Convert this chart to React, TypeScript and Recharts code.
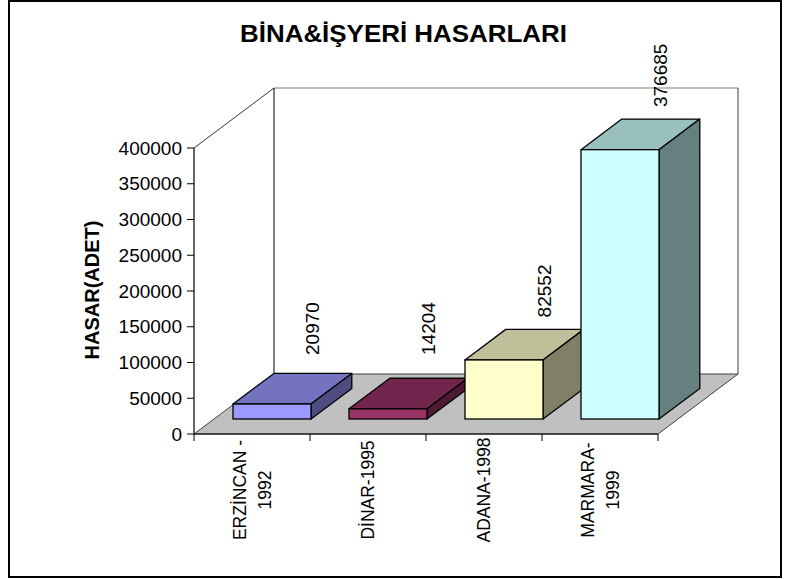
import React from 'react';
import { BarChart, Bar, XAxis, YAxis, ReferenceArea, LabelList } from 'recharts';

const categories = ['ERZİNCAN -\n1992', 'DİNAR-1995', 'ADANA-1998', 'MARMARA-\n1999'];
const damages = [20970, 14204, 82552, 376685];
const yTicks = [0, 50000, 100000, 150000, 200000, 250000, 300000, 350000, 400000];
const frontColors = ['#9999FF', '#993366', '#FFFFCC', '#CCFFFF'];
const topColors = ['#7373BF', '#73264D', '#BFBF99', '#99BFBF'];
const sideColors = ['#4D4D80', '#4D1A33', '#808066', '#668080'];
const chartTitle = 'BİNA&İŞYERİ HASARLARI';
const yTitle = 'HASAR(ADET)';

const data = categories.map((name, i) => ({ name, value: damages[i] }));

const FONT = '"Liberation Sans", Arial, Helvetica, sans-serif';
const DX = 80;
const DY = 60;
const FRONT = 0.25;
const THICK = 0.51;

const Bar3D = (props: any) => {
  const { x, y, width, height, index } = props;
  if (width == null || height == null) return null;
  const ox = x + DX * FRONT;
  const oy = y - DY * FRONT;
  const tx = DX * THICK;
  const ty = DY * THICK;
  const sw = 1.3;
  return (
    <g>
      <polygon
        points={`${ox},${oy} ${ox + tx},${oy - ty} ${ox + width + tx},${oy - ty} ${ox + width},${oy}`}
        fill={topColors[index]}
        stroke="#000"
        strokeWidth={sw}
        strokeLinejoin="round"
      />
      <polygon
        points={`${ox + width},${oy} ${ox + width + tx},${oy - ty} ${ox + width + tx},${oy + height - ty} ${ox + width},${oy + height}`}
        fill={sideColors[index]}
        stroke="#000"
        strokeWidth={sw}
        strokeLinejoin="round"
      />
      <rect x={ox} y={oy} width={width} height={height} fill={frontColors[index]} stroke="#000" strokeWidth={sw} />
    </g>
  );
};

const Room = (props: any) => {
  const { x, y, width, height } = props;
  if (x == null) return null;
  const L = x;
  const R = x + width;
  const T = y;
  const B = y + height;
  const n = categories.length;
  const ticks = [];
  for (let i = 0; i <= n; i++) {
    const tx = L + (i * width) / n;
    ticks.push(<line key={i} x1={tx} y1={B} x2={tx} y2={B + 7} stroke="#000" strokeWidth={1} />);
  }
  return (
    <g>
      <polygon
        points={`${L},${B} ${L + DX},${B - DY} ${R + DX},${B - DY} ${R},${B}`}
        fill="#C0C0C0"
        stroke="#404040"
        strokeWidth={1}
      />
      <line x1={L + DX} y1={T - DY} x2={R + DX} y2={T - DY} stroke="#808080" strokeWidth={1.2} />
      <line x1={L} y1={T} x2={L + DX} y2={T - DY} stroke="#000" strokeWidth={0.8} />
      <line x1={L + DX} y1={T - DY} x2={L + DX} y2={B - DY} stroke="#000" strokeWidth={1} />
      <line x1={R + DX} y1={T - DY} x2={R + DX} y2={B - DY} stroke="#404040" strokeWidth={1} />
      {ticks}
    </g>
  );
};

const CatTick = (props: any) => {
  const { x, y, payload } = props;
  const lines = String(payload.value).split('\n');
  const lh = 24.5;
  const cy = y + 56;
  return (
    <g>
      {lines.map((ln, i) => {
        const cx = x + (i - (lines.length - 1) / 2) * lh;
        const bx = cx + 6.3;
        return (
          <text
            key={i}
            x={bx}
            y={cy}
            transform={`rotate(-90 ${bx} ${cy})`}
            textAnchor="middle"
            fontSize={17.5}
            fontFamily={FONT}
            fill="#000"
          >
            {ln}
          </text>
        );
      })}
    </g>
  );
};

const ValueLabel = (props: any) => {
  const vb = props.viewBox || props;
  const x = vb.x ?? props.x;
  const y = vb.y ?? props.y;
  const width = vb.width ?? props.width;
  const height = vb.height ?? props.height;
  if (x == null || y == null) return null;
  const cx = x + width / 2 + DX * 0.75;
  const backTop = y - DY * (FRONT + THICK);
  const floorBack = y + height - DY;
  const by = Math.min(backTop - 12, floorBack - 19);
  const bx = cx + 7;
  return (
    <text
      x={bx}
      y={by}
      transform={`rotate(-90 ${bx} ${by})`}
      textAnchor="start"
      fontSize={19}
      fontFamily={FONT}
      fill="#000"
    >
      {props.value}
    </text>
  );
};

export default function App() {
  return (
    <div style={{ position: 'absolute', left: 0, top: 0, width: 789, height: 579, background: '#fff' }}>
      <svg width={789} height={579} style={{ position: 'absolute', left: 0, top: 0 }}>
        <rect x={9} y={1} width={772} height={576} fill="#fff" stroke="#000" strokeWidth={2} />
        <text
          x={403.5}
          y={41.5}
          textAnchor="middle"
          fontSize={24}
          fontWeight="bold"
          fontFamily={FONT}
          textLength={327}
          lengthAdjust="spacingAndGlyphs"
          fill="#000"
        >
          {chartTitle}
        </text>
        <text
          x={98.5}
          y={290}
          transform="rotate(-90 98.5 290)"
          textAnchor="middle"
          fontSize={20}
          fontWeight="bold"
          fontFamily={FONT}
          fill="#000"
        >
          {yTitle}
        </text>
      </svg>
      <div style={{ position: 'absolute', left: 0, top: 0 }}>
        <BarChart width={789} height={579} data={data} margin={{ top: 148, right: 131, bottom: 45, left: 84 }}>
          <ReferenceArea y1={0} y2={400000} shape={Room} ifOverflow="visible" />
          <XAxis
            dataKey="name"
            height={100}
            interval={0}
            tickLine={false}
            tickSize={0}
            tickMargin={0}
            axisLine={{ stroke: '#000', strokeWidth: 1.2 }}
            tick={CatTick}
          />
          <YAxis
            type="number"
            domain={[0, 400000]}
            ticks={yTicks}
            interval={0}
            width={110}
            tickSize={7}
            tickMargin={5}
            axisLine={{ stroke: '#000', strokeWidth: 1.2 }}
            tickLine={{ stroke: '#000', strokeWidth: 1 }}
            tick={{ fontSize: 19, fill: '#000', fontFamily: FONT }}
          />
          <Bar dataKey="value" barSize={78} shape={Bar3D} isAnimationActive={false}>
            <LabelList dataKey="value" content={ValueLabel} />
          </Bar>
        </BarChart>
      </div>
    </div>
  );
}
